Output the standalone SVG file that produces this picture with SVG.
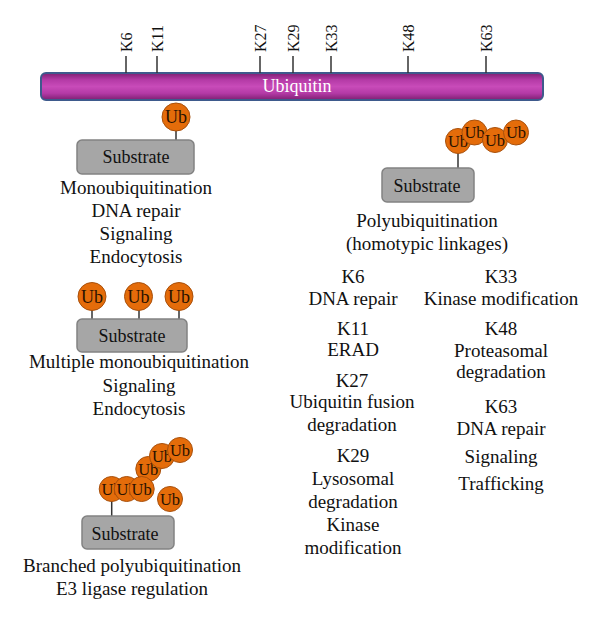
<svg xmlns="http://www.w3.org/2000/svg" width="600" height="623" viewBox="0 0 600 623">
<defs>
<linearGradient id="barg" x1="0" y1="0" x2="0" y2="1">
<stop offset="0" stop-color="#7d1f72"/>
<stop offset="0.25" stop-color="#b43aa6"/>
<stop offset="0.5" stop-color="#c84bb9"/>
<stop offset="0.75" stop-color="#b43aa6"/>
<stop offset="1" stop-color="#7d1f72"/>
</linearGradient>
</defs>
<style>
text{font-family:"Liberation Serif","Times New Roman",serif;fill:#111}
.lbl{font-size:19px;text-anchor:middle}
.k{font-size:16px}
.sub rect{fill:#a6a6a6;stroke:#828282;stroke-width:1.5}
.sub text{font-size:18px;text-anchor:middle}
.ub circle{fill:#e46c0a;stroke:#a8500c;stroke-width:1}
.ub text{font-size:18px;text-anchor:middle;fill:#2a1200}
.ubs text{font-size:16.5px}
.ln{stroke:#333;stroke-width:1.5}
</style>

<g id="ubiquitin">
<rect x="41" y="73" width="502" height="27" rx="5" fill="url(#barg)" stroke="#3e5a8c" stroke-width="2"/>
<text x="297" y="92" style="font-size:18px;text-anchor:middle;fill:#fff">Ubiquitin</text>
</g>

<g id="lysines">
<g class="ln">
<line x1="126" y1="56" x2="126" y2="73"/>
<line x1="157" y1="56" x2="157" y2="73"/>
<line x1="260" y1="56" x2="260" y2="73"/>
<line x1="293" y1="56" x2="293" y2="73"/>
<line x1="331" y1="56" x2="331" y2="73"/>
<line x1="408" y1="56" x2="408" y2="73"/>
<line x1="486" y1="56" x2="486" y2="73"/>
</g>
<text class="k" transform="translate(132,52) rotate(-90)">K6</text>
<text class="k" transform="translate(163,52) rotate(-90)">K11</text>
<text class="k" transform="translate(266,52) rotate(-90)">K27</text>
<text class="k" transform="translate(299,52) rotate(-90)">K29</text>
<text class="k" transform="translate(337,52) rotate(-90)">K33</text>
<text class="k" transform="translate(414,52) rotate(-90)">K48</text>
<text class="k" transform="translate(492,52) rotate(-90)">K63</text>
</g>

<g id="mono">
<line class="ln" x1="176" y1="131" x2="176" y2="140"/>
<g class="sub"><rect x="77" y="140" width="117" height="34" rx="5"/><text x="136" y="163">Substrate</text></g>
<g class="ub"><circle cx="176" cy="117" r="14"/><text x="176" y="123">Ub</text></g>
<text class="lbl" x="136" y="194">Monoubiquitination</text>
<text class="lbl" x="136" y="217">DNA repair</text>
<text class="lbl" x="136" y="240">Signaling</text>
<text class="lbl" x="136" y="263">Endocytosis</text>
</g>

<g id="multi">
<g class="ln">
<line x1="92" y1="310" x2="92" y2="319"/>
<line x1="139" y1="310" x2="139" y2="319"/>
<line x1="179" y1="310" x2="179" y2="319"/>
</g>
<g class="sub"><rect x="77" y="319" width="110" height="33" rx="5"/><text x="132" y="342">Substrate</text></g>
<g class="ub">
<circle cx="92" cy="296.5" r="14"/><text x="92" y="302.5">Ub</text>
<circle cx="138.5" cy="296.5" r="14"/><text x="138.5" y="302.5">Ub</text>
<circle cx="179" cy="296.5" r="14"/><text x="179" y="302.5">Ub</text>
</g>
<text class="lbl" x="139" y="368">Multiple monoubiquitination</text>
<text class="lbl" x="139" y="392">Signaling</text>
<text class="lbl" x="139" y="415">Endocytosis</text>
</g>

<g id="branched">
<line class="ln" x1="111.7" y1="500" x2="111.7" y2="516"/>
<g class="sub"><rect x="82" y="516" width="92" height="33" rx="5"/><text x="125" y="540">Substrate</text></g>
<g class="ub ubs">
<circle cx="148.3" cy="469" r="12.5"/><text x="148.3" y="474.5">Ub</text>
<circle cx="162" cy="456" r="12.5"/><text x="162" y="461.5">Ub</text>
<circle cx="180" cy="450" r="12.5"/><text x="180" y="455.5">Ub</text>
<circle cx="111.7" cy="489" r="12.5"/><text x="111.7" y="494.5">Ub</text>
<circle cx="126.7" cy="489" r="12.5"/><text x="126.7" y="494.5">Ub</text>
<circle cx="141.7" cy="489" r="12.5"/><text x="141.7" y="494.5">Ub</text>
<circle cx="170" cy="499" r="12.5"/><text x="170" y="504.5">Ub</text>
</g>
<text class="lbl" x="132" y="572">Branched polyubiquitination</text>
<text class="lbl" x="132" y="595">E3 ligase regulation</text>
</g>

<g id="poly">
<line class="ln" x1="458" y1="152" x2="458" y2="168"/>
<g class="sub"><rect x="382" y="168" width="92" height="34" rx="5"/><text x="427" y="192">Substrate</text></g>
<g class="ub ubs">
<circle cx="458" cy="141" r="12.5"/><text x="458" y="146.5">Ub</text>
<circle cx="474.5" cy="132.5" r="12.5"/><text x="474.5" y="138">Ub</text>
<circle cx="495" cy="140" r="12.5"/><text x="495" y="145.5">Ub</text>
<circle cx="516" cy="132.5" r="12.5"/><text x="516" y="138">Ub</text>
</g>
<text class="lbl" x="427" y="227">Polyubiquitination</text>
<text class="lbl" x="427" y="250">(homotypic linkages)</text>
</g>

<g id="linkages-left">
<text class="lbl" x="353" y="283">K6</text>
<text class="lbl" x="353" y="305">DNA repair</text>
<text class="lbl" x="353" y="335">K11</text>
<text class="lbl" x="353" y="356">ERAD</text>
<text class="lbl" x="352" y="387">K27</text>
<text class="lbl" x="352" y="408">Ubiquitin fusion</text>
<text class="lbl" x="352" y="431">degradation</text>
<text class="lbl" x="353" y="462">K29</text>
<text class="lbl" x="353" y="485">Lysosomal</text>
<text class="lbl" x="353" y="508">degradation</text>
<text class="lbl" x="353" y="531">Kinase</text>
<text class="lbl" x="353" y="554">modification</text>
</g>

<g id="linkages-right">
<text class="lbl" x="501" y="283">K33</text>
<text class="lbl" x="501" y="305">Kinase modification</text>
<text class="lbl" x="501" y="335">K48</text>
<text class="lbl" x="501" y="357">Proteasomal</text>
<text class="lbl" x="501" y="378">degradation</text>
<text class="lbl" x="501" y="413">K63</text>
<text class="lbl" x="501" y="435">DNA repair</text>
<text class="lbl" x="501" y="463">Signaling</text>
<text class="lbl" x="501" y="490">Trafficking</text>
</g>
</svg>
